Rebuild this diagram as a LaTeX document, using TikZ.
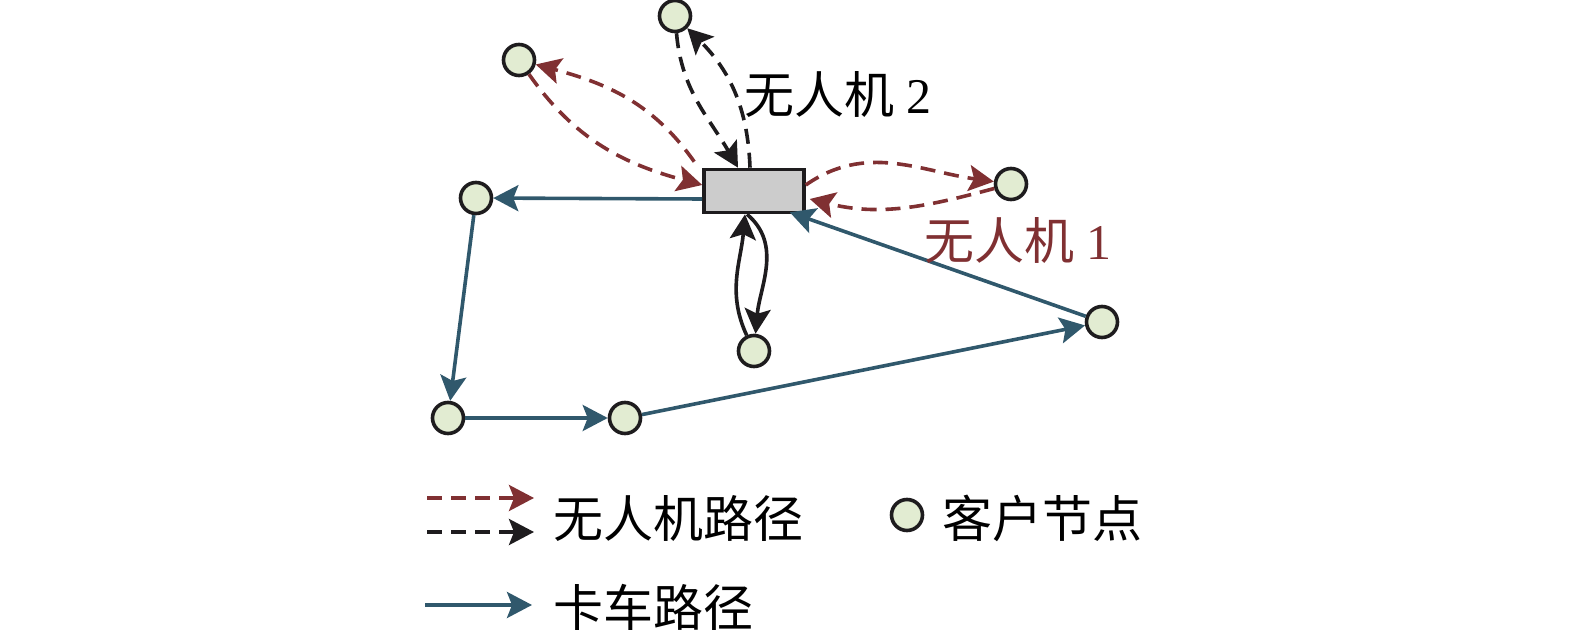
\documentclass[tikz,border=0pt]{standalone}
\usepackage{fontspec}
\setmainfont{Liberation Serif}
\newfontfamily\cjk{Noto Sans CJK SC}
\usetikzlibrary{arrows.meta}
\definecolor{dred}{RGB}{128,48,50}
\definecolor{tblue}{RGB}{48,88,108}
\definecolor{nfill}{RGB}{226,236,210}
\definecolor{dgray}{RGB}{204,204,204}
\definecolor{ink}{RGB}{30,28,30}
\tikzset{
  cust/.style={circle,draw=ink,fill=nfill,line width=1.8pt,minimum size=15.5pt,inner sep=0pt},
  depot/.style={rectangle,draw=ink,fill=dgray,line width=1.8pt,minimum width=50pt,minimum height=21.5pt,inner sep=0pt},
  tip/.style={-{Stealth[length=12.5pt,width=13pt,inset=2.5pt]}},
  truck/.style={tip,draw=tblue,line width=1.8pt},
  drone1/.style={tip,draw=dred,line width=1.8pt,dash pattern=on 7.5pt off 4.5pt},
  drone2/.style={tip,draw=ink,line width=1.8pt,dash pattern=on 7.5pt off 4.5pt},
  solidk/.style={tip,draw=ink,line width=1.8pt},
  lbl/.style={inner sep=0pt,font=\fontsize{25pt}{28pt}\selectfont},
  leg/.style={inner sep=0pt,anchor=west,font=\fontsize{25pt}{28pt}\selectfont\cjk},
}
\begin{document}
\begin{tikzpicture}[x=0.5pt,y=-0.5pt]
\useasboundingbox (0,0) rectangle (1575,635);
% nodes
\node[depot] (dep) at (754,191) {};
\node[cust] (A) at (675,16) {};
\node[cust] (B) at (519,60) {};
\node[cust] (C) at (1011,184) {};
\node[cust] (D) at (754,351) {};
\node[cust] (E) at (476,198) {};
\node[cust] (F) at (448,418) {};
\node[cust] (G) at (625,418) {};
\node[cust] (H) at (1102,322) {};
% truck route
\draw[truck] ([yshift=-4pt]dep.west) -- (E);
\draw[truck] (E) -- (F);
\draw[truck] (F) -- (G);
\draw[truck] (G) -- (H);
\draw[truck] (H) -- ([xshift=-8pt,yshift=1pt]dep.south east);
% drone 1
\draw[drone1] ([shift={(-4pt,3pt)}]dep.north west) to[out=125,in=-15] (B);
\draw[drone1] (B) to[out=-55,in=165] ([yshift=3pt]dep.west);
\draw[drone1] ([yshift=3pt]dep.east) to[out=35,in=172] (C);
\draw[drone1] (C) to[out=-165,in=-14] ([xshift=2pt,yshift=-4pt]dep.east);
% drone 2
\draw[drone2] (A) to[out=-85,in=120] ([xshift=-8pt]dep.north);
\draw[drone2] ([xshift=-2pt]dep.north) to[out=92,in=-45] (A);
% truck-launched loop to D
\draw[solidk] (D) to[out=115,in=-95] ([xshift=-4.5pt]dep.south);
\draw[solidk] ([xshift=-3.5pt]dep.south) to[out=-40,in=85] (D);
% labels
\node[lbl] (l2) at (838,95) {{\cjk 无人机} 2};
\node[lbl,text=dred] (l1) at (1018,241) {{\cjk 无人机} 1};
% legend
\coordinate (r1) at (427,498);
\coordinate (r2) at (534,498);
\coordinate (k1) at (427,532);
\coordinate (k2) at (534,532);
\coordinate (b1) at (425,605);
\coordinate (b2) at (532,605);
\draw[drone1] (r1) -- (r2);
\draw[drone2] (k1) -- (k2);
\draw[truck] (b1) -- (b2);
\node[leg] (t1) at (553,518) {无人机路径};
\node[leg] (t2) at (553,607) {卡车路径};
\node[cust] (lc) at (907,515) {};
\node[leg] (t3) at (942,518) {客户节点};
\end{tikzpicture}
\end{document}
